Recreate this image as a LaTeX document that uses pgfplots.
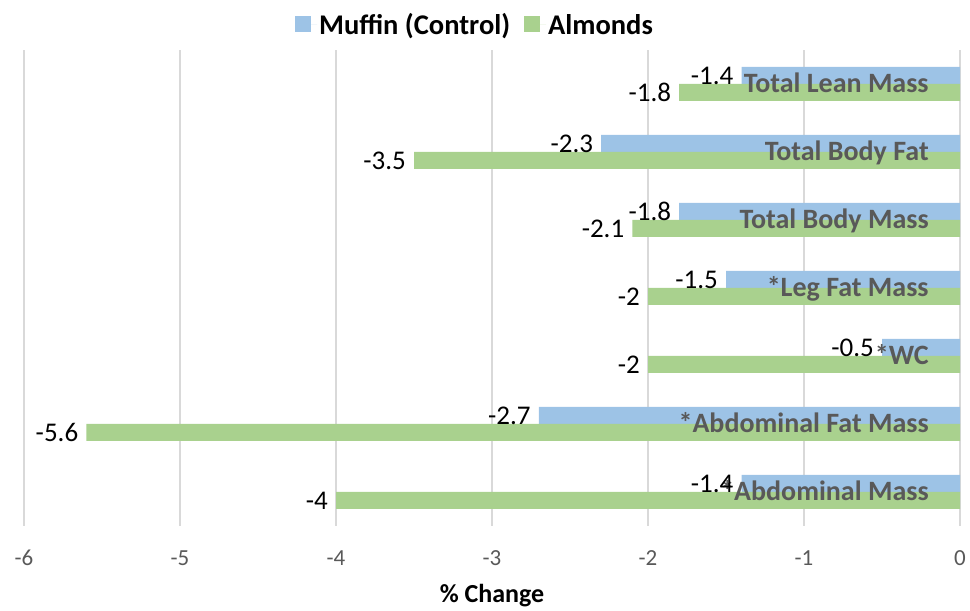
\documentclass[border=0pt]{standalone}
\usepackage{pgfplots}
\pgfplotsset{compat=1.18}
\usepackage{fontspec}
\setmainfont{Carlito}

\definecolor{muffin}{HTML}{9DC3E6}
\definecolor{almond}{HTML}{A9D18E}
\definecolor{labgray}{HTML}{595959}
\definecolor{gridgray}{HTML}{D9D9D9}

\begin{document}
\begin{tikzpicture}
\begin{axis}[
    scale only axis,
    width=936pt, height=476pt,
    xmin=-6, xmax=0,
    ymin=-0.5, ymax=6.5,
    xtick={-6,-5,...,0},
    ytick=\empty,
    xbar,
    bar width=0.25,
    axis line style={draw=none},
    tick style={draw=none},
    xmajorgrids=true,
    grid style={gridgray, line width=1.5pt},
    /pgf/number format/assume math mode=true,
    xticklabel style={font=\fontsize{23}{26}\selectfont, text=labgray, anchor=center, yshift=-32pt},
    xlabel={\textbf{\% Change}},
    xlabel style={font=\fontsize{26}{30}\selectfont, at={(axis description cs:0.5,0)}, anchor=center, yshift=-70pt},
    nodes near coords,
    nodes near coords align={horizontal},
    every node near coord/.append style={font=\fontsize{27}{30}\selectfont, text=black, inner sep=2pt, xshift=-6pt},
    legend style={at={(0.5,1.0)}, anchor=center, yshift=25pt, xshift=-17pt, draw=none,
        font=\fontsize{28.5}{30}\selectfont\bfseries, legend columns=2,
        /tikz/every even column/.append style={column sep=12pt}},
    legend image code/.code={\fill[#1] (0pt,-7pt) rectangle (16pt,9pt); \path (0pt,0pt) -- (22pt,0pt);},
]
\addplot[fill=muffin, draw=none, bar shift=0.125] coordinates {
    (-1.4,6) (-2.3,5) (-1.8,4) (-1.5,3) (-0.5,2) (-2.7,1) (-1.4,0)
};
\addplot[fill=almond, draw=none, bar shift=-0.125] coordinates {
    (-1.8,6) (-3.5,5) (-2.1,4) (-2,3) (-2,2) (-5.6,1) (-4,0)
};
\legend{Muffin (Control), Almonds}

\begin{scope}[every node/.style={anchor=base east, text=labgray, yshift=-9pt,
        font=\fontsize{28}{30}\selectfont\bfseries, inner sep=0pt}]
\node at (axis cs:-0.2,6) {Total Lean Mass};
\node at (axis cs:-0.2,5) {Total Body Fat};
\node at (axis cs:-0.2,4) {Total Body Mass};
\node at (axis cs:-0.2,3) {*Leg Fat Mass};
\node at (axis cs:-0.2,2) {*WC};
\node at (axis cs:-0.2,1) {*Abdominal Fat Mass};
\node at (axis cs:-0.2,0) {*Abdominal Mass};
\end{scope}
\end{axis}
\path ([shift={(-24pt,-82pt)}]current axis.south west) rectangle ([shift={(10pt,50pt)}]current axis.north east);
\end{tikzpicture}
\end{document}
